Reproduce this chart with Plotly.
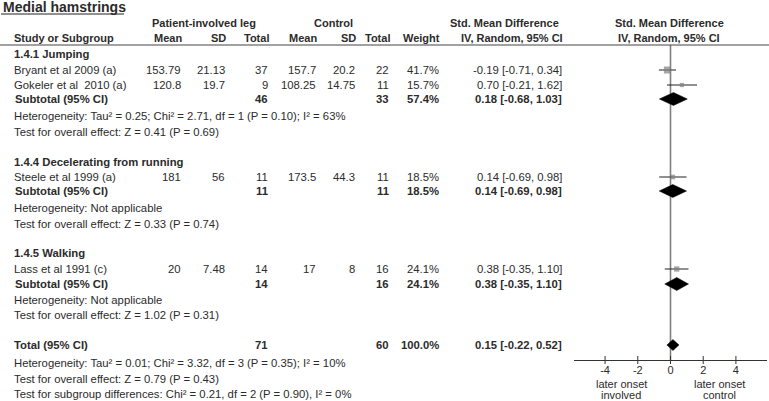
import plotly.graph_objects as go

# ---------------- data ----------------
studies = ["Bryant et al 2009 (a)", "Gokeler et al\u00a0 2010 (a)", "Steele et al 1999 (a)", "Lass et al 1991 (c)"]
study_group = [0, 0, 1, 2]
pat_mean = [153.79, 120.8, 181, 20]
pat_sd = [21.13, 19.7, 56, 7.48]
pat_n = [37, 9, 11, 14]
ctl_mean = [157.7, 108.25, 173.5, 17]
ctl_sd = [20.2, 14.75, 44.3, 8]
ctl_n = [22, 11, 11, 16]
weight = [41.7, 15.7, 18.5, 24.1]
smd = [-0.19, 0.70, 0.14, 0.38]
smd_lo = [-0.71, -0.21, -0.69, -0.35]
smd_hi = [0.34, 1.62, 0.98, 1.10]

subgroups = ["1.4.1 Jumping", "1.4.4 Decelerating from running", "1.4.5 Walking"]
sub_pat_n = [46, 11, 14]
sub_ctl_n = [33, 11, 16]
sub_weight = [57.4, 18.5, 24.1]
sub_smd = [0.18, 0.14, 0.38]
sub_lo = [-0.68, -0.69, -0.35]
sub_hi = [1.03, 0.98, 1.10]
sub_het = ["Heterogeneity: Tau\u00b2 = 0.25; Chi\u00b2 = 2.71, df = 1 (P = 0.10); I\u00b2 = 63%",
           "Heterogeneity: Not applicable",
           "Heterogeneity: Not applicable"]
sub_test = ["Test for overall effect: Z = 0.41 (P = 0.69)",
            "Test for overall effect: Z = 0.33 (P = 0.74)",
            "Test for overall effect: Z = 1.02 (P = 0.31)"]

total_pat_n = 71
total_ctl_n = 60
total_weight = 100.0
total_smd = 0.15
total_lo = -0.22
total_hi = 0.52
total_lines = ["Heterogeneity: Tau\u00b2 = 0.01; Chi\u00b2 = 3.32, df = 3 (P = 0.35); I\u00b2 = 10%",
               "Test for overall effect: Z = 0.79 (P = 0.43)",
               "Test for subgroup differences: Chi\u00b2 = 0.21, df = 2 (P = 0.90), I\u00b2 = 0%"]

tick_vals = [-4, -2, 0, 2, 4]
tick_text = ["-4", "-2", "0", "2", "4"]
favours_left = ["later onset", "involved"]
favours_right = ["later onset", "control"]

# ---------------- layout constants ----------------
W, H = 769, 401
FONT = "Liberation Sans, Arial, sans-serif"
TXT = "#2b2b2b"
FS = 11.3
GROUP_HEAD_Y = [54, 162, 253]
STUDY_Y = [70, 85, 177, 269]
SUB_Y = [99, 191, 284]
HET_Y = [116, 208, 300]
TEST_Y = [132, 224, 315]
TOTAL_Y = 345
TOTAL_LINES_Y = [363, 379, 393.5]
AXIS_Y = 360
HEADER_LINE_Y = 45
COL = dict(pm=183, psd=227, pn=270, cm=318, csd=357, cn=391, w=441, ci=564)
X_LEFT_PX, X_RIGHT_PX = 574, 767
X_RANGE = [-5.9, 5.9]


def fmt(v):
    return format(v, "g")


def ci_text(e, l, h):
    return f"{e:.2f} [{l:.2f}, {h:.2f}]"


annotations = []


def txt(xpx, y, text, anchor="left", bold=False, size=FS, color=TXT):
    if bold:
        text = f"<b>{text}</b>"
    annotations.append(dict(x=xpx / W, xref="paper", y=y, yref="y", text=text,
                            xanchor=anchor, yanchor="middle", showarrow=False,
                            font=dict(family=FONT, size=size, color=color)))


fig = go.Figure()

# title
txt(1, 7, "Medial hamstrings", bold=True, size=14)

# headers
txt(204, 23, "Patient-involved leg", "center", True, 11)
txt(333, 23, "Control", "center", True, 11)
txt(504, 23, "Std. Mean Difference", "center", True, 11)
txt(669, 23, "Std. Mean Difference", "center", True, 11)
txt(12, 38, "Study or Subgroup", "left", True, 11)
for key, lab in [("pm", "Mean"), ("psd", "SD"), ("pn", "Total"), ("cm", "Mean"),
                 ("csd", "SD"), ("cn", "Total"), ("w", "Weight"), ("ci", "IV, Random, 95% CI")]:
    txt(COL[key] + 1, 38, lab, "right", True, 11)
txt(669, 38, "IV, Random, 95% CI", "center", True, 11)

# subgroups
for g, name in enumerate(subgroups):
    txt(12, GROUP_HEAD_Y[g], name, bold=True)
    txt(13, SUB_Y[g], "Subtotal (95% CI)", bold=True)
    txt(COL["pn"], SUB_Y[g], str(sub_pat_n[g]), "right", True)
    txt(COL["cn"], SUB_Y[g], str(sub_ctl_n[g]), "right", True)
    txt(COL["w"], SUB_Y[g], f"{sub_weight[g]:.1f}%", "right", True)
    txt(COL["ci"], SUB_Y[g], ci_text(sub_smd[g], sub_lo[g], sub_hi[g]), "right", True)
    txt(12, HET_Y[g], sub_het[g])
    txt(12, TEST_Y[g], sub_test[g])

# studies
for i, name in enumerate(studies):
    y = STUDY_Y[i]
    txt(12, y, name)
    txt(COL["pm"], y, fmt(pat_mean[i]), "right")
    txt(COL["psd"], y, fmt(pat_sd[i]), "right")
    txt(COL["pn"], y, str(pat_n[i]), "right")
    txt(COL["cm"], y, fmt(ctl_mean[i]), "right")
    txt(COL["csd"], y, fmt(ctl_sd[i]), "right")
    txt(COL["cn"], y, str(ctl_n[i]), "right")
    txt(COL["w"], y, f"{weight[i]:.1f}%", "right")
    txt(COL["ci"], y, ci_text(smd[i], smd_lo[i], smd_hi[i]), "right")

# total
txt(12, TOTAL_Y, "Total (95% CI)", bold=True)
txt(COL["pn"], TOTAL_Y, str(total_pat_n), "right", True)
txt(COL["cn"], TOTAL_Y, str(total_ctl_n), "right", True)
txt(COL["w"], TOTAL_Y, f"{total_weight:.1f}%", "right", True)
txt(COL["ci"], TOTAL_Y, ci_text(total_smd, total_lo, total_hi), "right", True)
for line, y in zip(total_lines, TOTAL_LINES_Y):
    txt(12, y, line)

# favours labels (data coords on the forest axis)
for xv, lines in [(-3, favours_left), (3, favours_right)]:
    for k, t in enumerate(lines):
        annotations.append(dict(x=xv, xref="x", y=383.5 + 11 * k, yref="y", text=t,
                                xanchor="center", yanchor="middle", showarrow=False,
                                borderpad=0,
                                font=dict(family=FONT, size=11, color=TXT)))

# study squares with CIs
fig.add_trace(go.Scatter(
    x=smd, y=STUDY_Y, mode="markers",
    marker=dict(symbol="square", color="#808080", size=[1.08 * w ** 0.5 for w in weight],
                line=dict(width=0)),
    error_x=dict(type="data", symmetric=False,
                 array=[h - e for h, e in zip(smd_hi, smd)],
                 arrayminus=[e - l for e, l in zip(smd, smd_lo)],
                 color="#222", thickness=1, width=0),
    hoverinfo="skip", cliponaxis=False))

# diamonds
dx, dy = [], []
for e, l, h, y, hh in list(zip(sub_smd, sub_lo, sub_hi, SUB_Y, [6.5] * 3)) + [(total_smd, total_lo, total_hi, TOTAL_Y, 5.5)]:
    dx += [l, e, h, e, l, None]
    dy += [y, y - hh, y, y + hh, y, None]
fig.add_trace(go.Scatter(x=dx, y=dy, mode="lines", fill="toself", fillcolor="black",
                         line=dict(width=0.5, color="black"), hoverinfo="skip"))

shapes = [
    dict(type="line", xref="paper", x0=0, x1=1, yref="y", y0=HEADER_LINE_Y, y1=HEADER_LINE_Y,
         line=dict(color="#444", width=1)),
    dict(type="line", xref="paper", x0=1 / W, x1=124 / W, yref="y", y0=14, y1=14,
         line=dict(color="#222", width=1)),
    dict(type="line", xref="x", x0=0, x1=0, yref="y", y0=HEADER_LINE_Y, y1=AXIS_Y,
         line=dict(color="#7f7f7f", width=1.6), layer="below"),
]
for tv in tick_vals:
    shapes.append(dict(type="line", xref="x", x0=tv, x1=tv, yref="y", y0=AXIS_Y - 4, y1=AXIS_Y + 4,
                       line=dict(color="#333", width=1)))

fig.update_layout(
    width=W, height=H, margin=dict(l=0, r=0, t=0, b=0),
    paper_bgcolor="white", plot_bgcolor="white", showlegend=False,
    annotations=annotations, shapes=shapes,
    xaxis=dict(domain=[X_LEFT_PX / W, X_RIGHT_PX / W], range=X_RANGE, anchor="free",
               position=(H - AXIS_Y) / H, showline=True, linecolor="#333", linewidth=1,
               ticks="", tickvals=tick_vals,
               ticktext=tick_text, showgrid=False, zeroline=False,
               tickfont=dict(family=FONT, size=11, color=TXT), fixedrange=True),
    yaxis=dict(domain=[0, 1], range=[H, 0], visible=False, fixedrange=True),
)

fig.write_html("out.html", config={"displayModeBar": False},
               post_script="document.body.style.margin='0';document.body.style.overflow='hidden';")
